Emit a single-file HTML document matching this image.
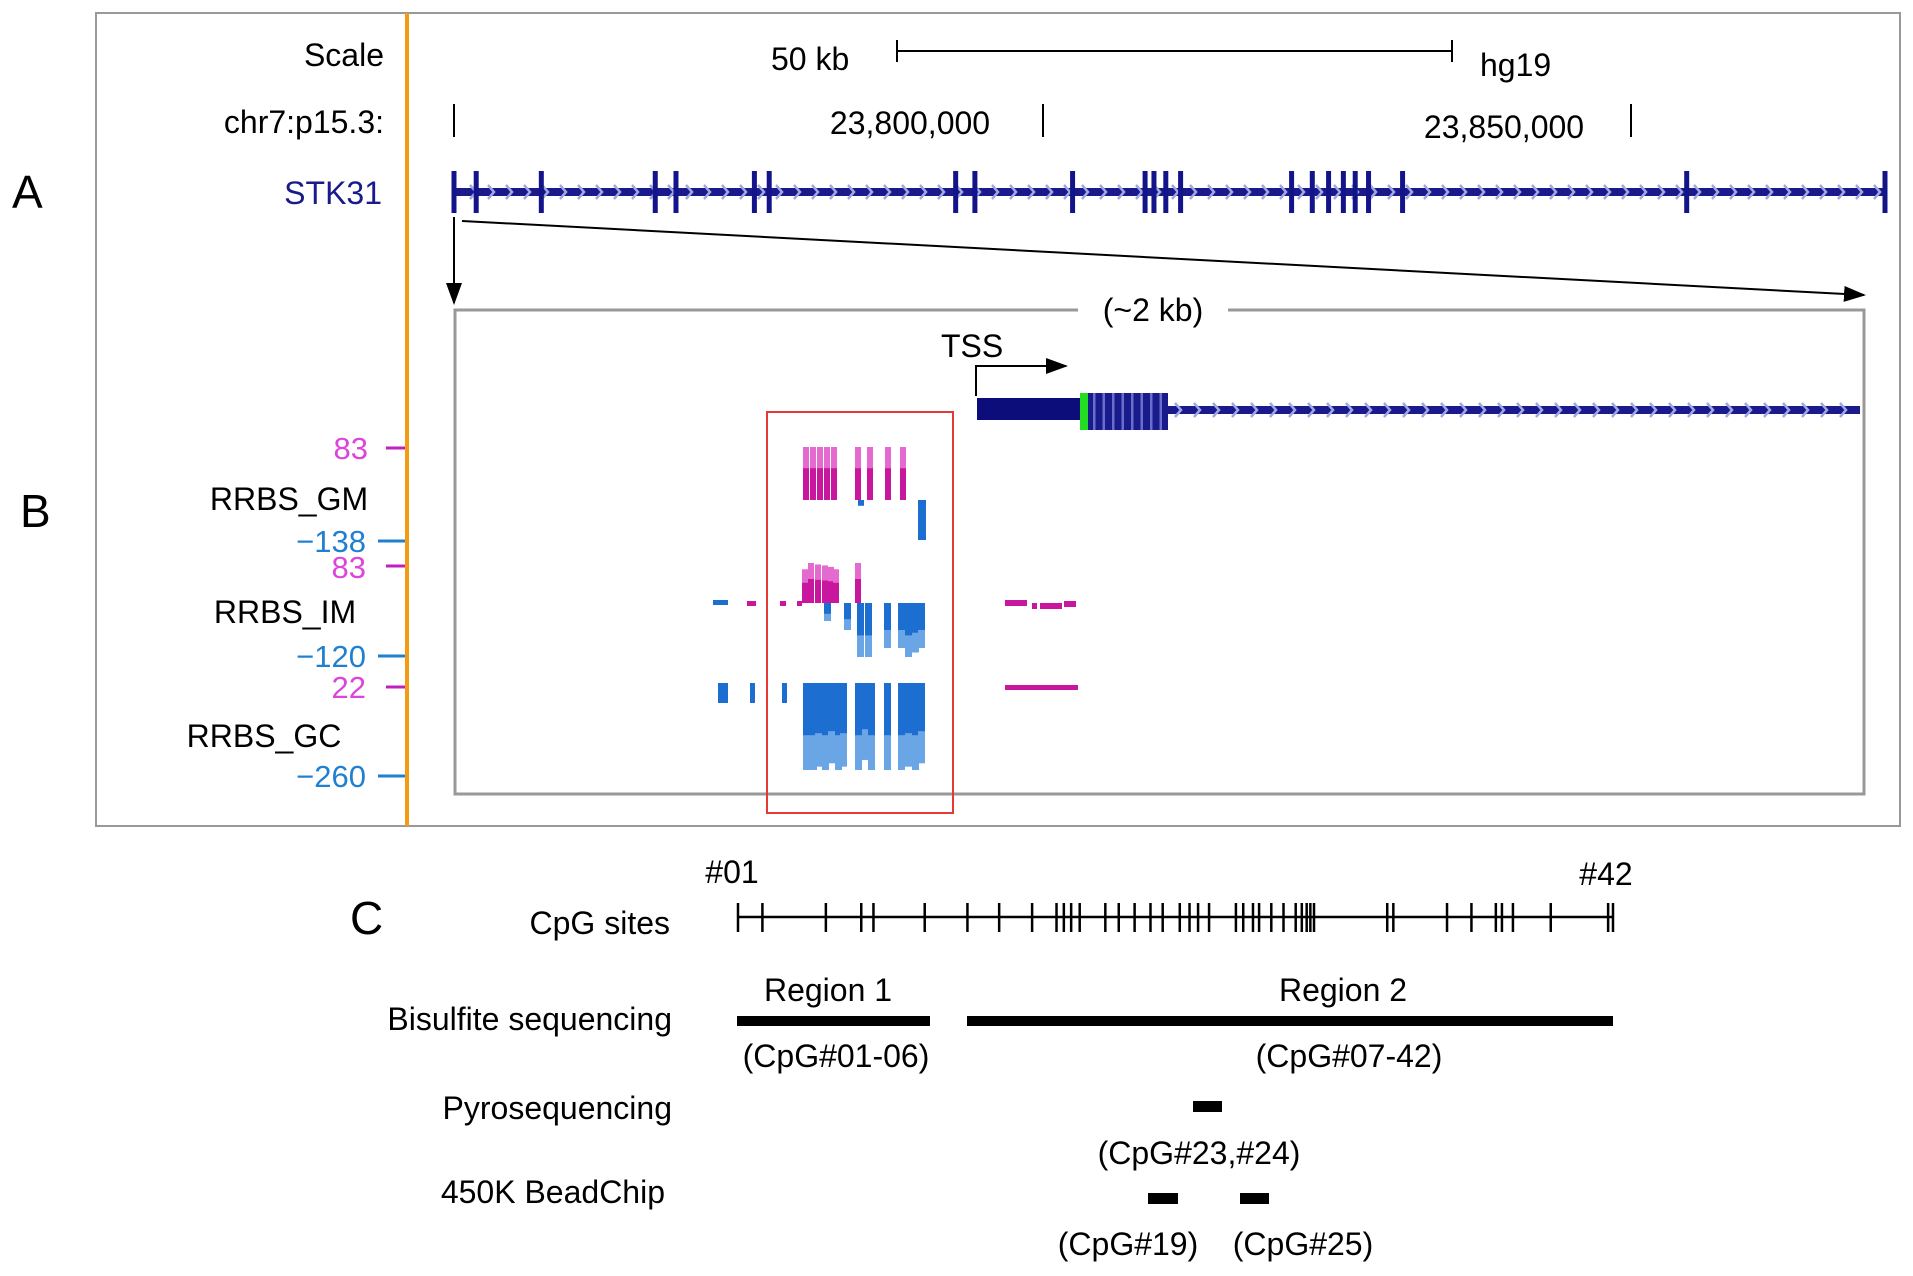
<!DOCTYPE html>
<html><head><meta charset="utf-8">
<style>
html,body{margin:0;padding:0;background:#fff;}
svg{display:block;font-family:"Liberation Sans",Arial,sans-serif;}
</style></head>
<body>
<svg id="fig" width="1913" height="1276" viewBox="0 0 1913 1276" xmlns="http://www.w3.org/2000/svg">
<defs>
<marker id="ah2" markerWidth="22" markerHeight="16" refX="20" refY="8" orient="auto" markerUnits="userSpaceOnUse">
<path d="M0,0 L22,8 L0,16 z"/>
</marker>
</defs>
<text x="12" y="208" font-size="46">A</text>
<text x="20" y="527" font-size="46">B</text>
<text x="350" y="934" font-size="46">C</text>

<rect x="96" y="13" width="1804" height="813" fill="none" stroke="#999" stroke-width="2"/>
<line x1="407" y1="13" x2="407" y2="826" stroke="#f39c12" stroke-width="4"/>

<text x="384" y="66" font-size="32" text-anchor="end">Scale</text>
<text x="771" y="70" font-size="32">50 kb</text>
<g stroke="#000" stroke-width="2">
<line x1="897" y1="51" x2="1452" y2="51"/><line x1="897" y1="40" x2="897" y2="62"/><line x1="1452" y1="40" x2="1452" y2="62"/>
</g>
<text x="1480" y="76" font-size="32">hg19</text>
<text x="384" y="133" font-size="32" text-anchor="end">chr7:p15.3:</text>
<g stroke="#000" stroke-width="2">
<line x1="454" y1="104" x2="454" y2="137"/><line x1="1043" y1="104" x2="1043" y2="137"/><line x1="1631" y1="104" x2="1631" y2="137"/>
</g>
<text x="910" y="134" font-size="32" text-anchor="middle">23,800,000</text>
<text x="1504" y="138" font-size="32" text-anchor="middle">23,850,000</text>
<text x="382" y="204" font-size="32" text-anchor="end" fill="#1a1a8c">STK31</text>
<g id="gene"></g>

<line x1="454" y1="217" x2="454" y2="303" stroke="#000" stroke-width="2" marker-end="url(#ah2)"/>
<line x1="462" y1="221" x2="1864" y2="295" stroke="#000" stroke-width="2" marker-end="url(#ah2)"/>

<rect x="455" y="310" width="1409" height="484" fill="none" stroke="#999" stroke-width="3"/>
<rect x="1078" y="290" width="150" height="40" fill="#fff"/>
<text x="1153" y="321" font-size="32" text-anchor="middle">(~2 kb)</text>

<text x="941" y="357" font-size="32">TSS</text>
<polyline points="976,396 976,366 1066,366" fill="none" stroke="#000" stroke-width="2" marker-end="url(#ah2)"/>
<g id="gene2"></g>

<g id="tracks"></g>
<rect x="767" y="412" width="186" height="401" fill="none" stroke="#e53935" stroke-width="2"/>

<g font-size="31">
<text x="368" y="459" text-anchor="end" fill="#dd44dd">83</text>
<text x="289" y="510" text-anchor="middle" font-size="32">RRBS_GM</text>
<text x="366" y="552" text-anchor="end" fill="#1f7fd0">−138</text>
<text x="366" y="578" text-anchor="end" fill="#dd44dd">83</text>
<text x="285" y="623" text-anchor="middle" font-size="32">RRBS_IM</text>
<text x="366" y="667" text-anchor="end" fill="#1f7fd0">−120</text>
<text x="366" y="698" text-anchor="end" fill="#dd44dd">22</text>
<text x="264" y="747" text-anchor="middle" font-size="32">RRBS_GC</text>
<text x="366" y="787" text-anchor="end" fill="#1f7fd0">−260</text>
</g>
<g stroke-width="3">
<line x1="386" y1="448" x2="405" y2="448" stroke="#c020c0"/>
<line x1="378" y1="541" x2="405" y2="541" stroke="#1f7fd0"/>
<line x1="386" y1="566" x2="405" y2="566" stroke="#c020c0"/>
<line x1="378" y1="656" x2="405" y2="656" stroke="#1f7fd0"/>
<line x1="386" y1="687" x2="405" y2="687" stroke="#c020c0"/>
<line x1="378" y1="776" x2="405" y2="776" stroke="#1f7fd0"/>
</g>

<text x="732" y="883" font-size="32" text-anchor="middle">#01</text>
<text x="1606" y="885" font-size="32" text-anchor="middle">#42</text>
<text x="670" y="934" font-size="32" text-anchor="end">CpG sites</text>
<g id="cpg"></g>

<g font-size="32">
<text x="828" y="1001" text-anchor="middle">Region 1</text>
<text x="1343" y="1001" text-anchor="middle">Region 2</text>
<text x="672" y="1030" text-anchor="end">Bisulfite sequencing</text>
<text x="836" y="1067" text-anchor="middle">(CpG#01-06)</text>
<text x="1349" y="1067" text-anchor="middle">(CpG#07-42)</text>
<text x="672" y="1119" text-anchor="end">Pyrosequencing</text>
<text x="1199" y="1164" text-anchor="middle">(CpG#23,#24)</text>
<text x="665" y="1203" text-anchor="end">450K BeadChip</text>
<text x="1128" y="1255" text-anchor="middle">(CpG#19)</text>
<text x="1303" y="1255" text-anchor="middle">(CpG#25)</text>
</g>
<g fill="#000">
<rect x="737" y="1016" width="193" height="10"/>
<rect x="967" y="1016" width="646" height="10"/>
<rect x="1193" y="1101" width="29" height="11"/>
<rect x="1148" y="1193" width="30" height="11"/>
<rect x="1240" y="1193" width="29" height="11"/>
</g>
</svg>
<script>
const exonRel = [0,15,59,136,150,203,213,339,352,418,467,473,481,491,566,580,591,601,609,618,641,833,967];
const cpgRel = [0,20,72,101,111,153,188,214,241,261,267,273,280,301,312,325,338,348,362,370,377,386,408,414,422,427,437,447,457,462,466,469,472,532,537,581,601,621,626,635,666,713,717];
const gmMeth = [83,83,83,83,83,83,83,83,83];
const gmX = [803,810,817,824,831,855,867,885,900];
const gmUn = [[858,-20],[918,-138]];
const imMethX = [802,808,815,822,828,833,855];
const imMeth = [70,83,80,78,75,70,83];
const imUnX = [824,844,857,865,884,898,905,912,918];
const imUn = [-40,-60,-120,-120,-100,-100,-120,-110,-100];
const gcUnX = [803,810,815,822,828,835,840,855,862,868,884,898,905,912,918];
const gcUn = [-260,-260,-250,-260,-240,-260,-250,-260,-230,-260,-260,-260,-250,-260,-240];
const gcSideX = [718,750,782];
const gcSide = [-60,-60,-60];

const NS='http://www.w3.org/2000/svg';
function mk(parent,tag,attrs){const e=document.createElementNS(NS,tag);for(const k in attrs)e.setAttribute(k,attrs[k]);parent.appendChild(e);return e;}
const gx = v => 454 + (v/967)*(1885-454);
const cx = v => 738 + (v/717)*(1613-738);

const g=document.getElementById('gene');
let l=mk(g,'rect',{x:454,y:188,width:1431,height:8,fill:'#1a1a8c'});


for(let x=470;x<1880;x+=18){mk(g,'path',{d:`M${x},185 l6,7 l-6,7`,stroke:'#9fa8e0','stroke-width':2.5,fill:'none'});}
exonRel.forEach(v=>{const r=mk(g,'rect',{x:gx(v)-2.5,y:171,width:5,height:42,fill:'#14148a'});

});

const g2=document.getElementById('gene2');
mk(g2,'rect',{x:1168,y:406,width:692,height:8,fill:'#1a1a8c'});
for(let x=1175;x<1855;x+=19){mk(g2,'path',{d:`M${x},403 l6,7 l-6,7`,stroke:'#9fa8e0','stroke-width':2.5,fill:'none'});}
let u=mk(g2,'rect',{x:977,y:398,width:104,height:22,fill:'#0c0c7a'});


mk(g2,'rect',{x:1080,y:393,width:8,height:37,fill:'#22dd22'});
mk(g2,'rect',{x:1088,y:393,width:80,height:37,fill:'#1a1a8c'});
for(let i=0;i<8;i++){mk(g2,'rect',{x:1093+i*9.5,y:393,width:2.5,height:37,fill:'#6670c8'});}

const t=document.getElementById('tracks');
function bar(x,base,val,scale,colorDark,colorLight,w){
  const h=Math.abs(val)*scale;
  const y= val>=0? base-h : base;
  const b=mk(t,'rect',{x:x,y:y,width:w||5,height:h,fill:colorLight});
  
  
  const h2=h*0.6;
  mk(t,'rect',{x:x,y: val>=0? base-h2 : base,width:w||5,height:h2,fill:colorDark});
}
const MAG='#c8169e',MAGL='#e46ad0',BLU='#1c6fd0',BLUL='#6aa6e6';
gmX.forEach((x,i)=>bar(x,500,gmMeth[i],53/83,MAG,MAGL,6));
gmUn.forEach(p=>bar(p[0],500,p[1],40/138,BLU,BLU,p[1]<-100?8:6));
imMethX.forEach((x,i)=>bar(x,603,imMeth[i],40/83,MAG,MAGL,6));
imUnX.forEach((x,i)=>bar(x,603,imUn[i],54/120,BLU,BLUL,7));
gcUnX.forEach((x,i)=>bar(x,683,gcUn[i],87/260,BLU,BLUL,7));
gcSideX.forEach((x,i)=>bar(x,683,gcSide[i],20/60,BLU,BLU,x===718?10:5));
[[713,600,15,'#1c6fd0'],[747,601,9,MAG],[780,601,6,MAG],[797,601,5,MAG]].forEach(d=>mk(t,'rect',{x:d[0],y:d[1],width:d[2],height:5,fill:d[3]}));
[[1005,600,22],[1032,603,5],[1040,603,22],[1064,601,12]].forEach(d=>mk(t,'rect',{x:d[0],y:d[1],width:d[2],height:6,fill:MAG}));
mk(t,'rect',{x:1005,y:685,width:73,height:5,fill:MAG});

const c=document.getElementById('cpg');
let cl=mk(c,'line',{x1:738,y1:917,x2:1613,y2:917,stroke:'#000','stroke-width':2.5});


cpgRel.forEach(v=>{const k=mk(c,'line',{x1:cx(v),y1:903,x2:cx(v),y2:932,stroke:'#000','stroke-width':2.5});

});
</script>
</body></html>
